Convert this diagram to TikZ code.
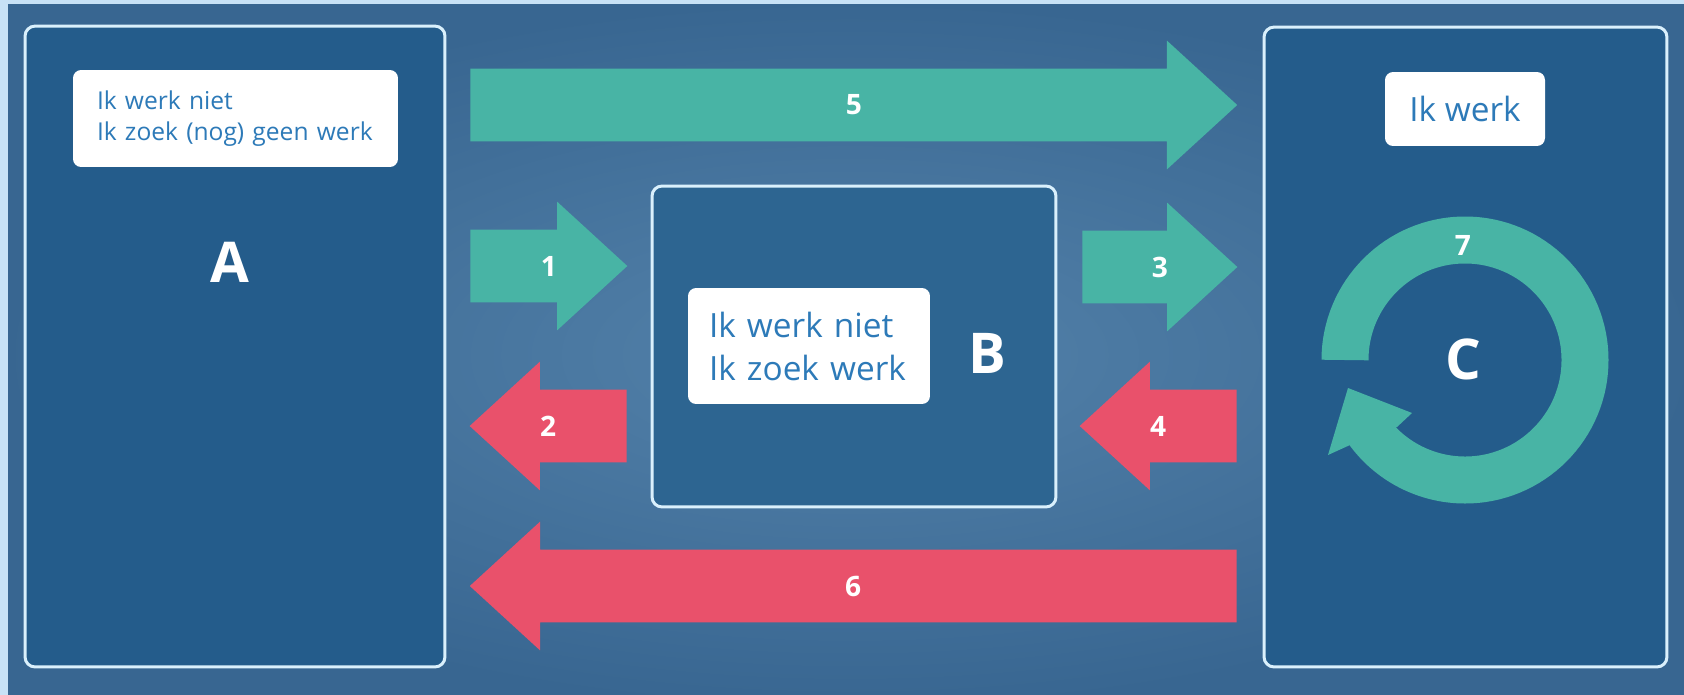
\documentclass[tikz,border=0pt]{standalone}
\usepackage{fontspec}
\setmainfont{Open Sans}
\usepackage{tikz}
\usetikzlibrary{shapes.arrows, calc, positioning}
\definecolor{bgedge}{RGB}{56,102,145}
\definecolor{bgmid}{RGB}{84,130,170}
\definecolor{frameblue}{RGB}{200,226,246}
\definecolor{panelfill}{RGB}{36,92,139}
\definecolor{panelmid}{RGB}{45,101,145}
\definecolor{panelline}{RGB}{218,240,252}
\definecolor{goteal}{RGB}{72,180,165}
\definecolor{backred}{RGB}{233,81,107}
\definecolor{labelblue}{RGB}{45,122,184}
\tikzstyle{panel} = [rectangle, rounded corners=0.2cm, draw=panelline, line width=1.7pt, fill=panelfill]
\tikzstyle{tag} = [rectangle, rounded corners=0.16cm, fill=white, text=labelblue, align=left]
\tikzstyle{letter} = [text=white, font=\fontsize{32}{38}\selectfont\bfseries]
\tikzstyle{num} = [text=white, inner sep=0pt, font=\fontsize{16}{19}\selectfont\bfseries]
\tikzstyle{fwd} = [single arrow, fill=goteal, draw=none, single arrow tip angle=85, single arrow head extend=0.56cm, inner xsep=0pt, inner ysep=0.52cm, text height=0.4cm, text depth=0pt, anchor=tail]
\tikzstyle{bwd} = [fwd, fill=backred, shape border rotate=180]

\begin{document}
\begin{tikzpicture}[x=0.02cm, y=-0.02cm]

	\useasboundingbox (0,0) rectangle (1684,694);
	\shade[inner color=bgmid, outer color=bgedge] (0,0) rectangle (1700,710);
	\fill[frameblue] (-10,-10) rectangle (8,710);
	\fill[frameblue] (-10,-10) rectangle (1700,4);

	% Panels
	\node (boxA) [panel, minimum width=8.4cm, minimum height=12.82cm] at (235,346.5) {};
	\node (boxB) [panel, fill=panelmid, minimum width=8.08cm, minimum height=6.42cm] at (854,346.5) {};
	\node (boxC) [panel, minimum width=8.06cm, minimum height=12.8cm] at (1465.5,347) {};

	\node (tagA) [tag, minimum width=6.5cm, minimum height=1.94cm, text width=5.54cm, inner xsep=0.48cm, font=\fontsize{14}{17.6}\selectfont] at (235.5,118.5) {Ik werk niet\\Ik zoek (nog) geen werk};
	\node (tagB) [tag, minimum width=4.84cm, minimum height=2.32cm, text width=4.0cm, inner xsep=0.42cm, font=\fontsize{19}{24.5}\selectfont] at (809,346) {Ik werk niet\\Ik zoek werk};
	\node (tagC) [tag, align=center, minimum width=3.2cm, minimum height=1.48cm, font=\fontsize{19}{24.5}\selectfont] at (1465,109) {Ik werk};

	\node (letA) [letter] at (230,262) {A};
	\node (letB) [letter] at (987,353) {B};
	\node (letC) [letter] at (1463,359) {C};

	% Arrows between panels
	\node (a5) [fwd, minimum height=15.34cm] at (470,105) {};
	\node (a1) [fwd, minimum height=3.14cm] at (470,266) {};
	\node (a3) [fwd, minimum height=3.1cm] at (1082,267) {};
	\node (a2) [bwd, minimum height=3.14cm] at (627,426) {};
	\node (a4) [bwd, minimum height=3.14cm] at (1237,426) {};
	\node (a6) [bwd, minimum height=15.34cm] at (1237,586) {};

	\node (n5) [num] at ($(a5.tail)!.5!(a5.tip)$) {5};
	\node (n1) [num] at ($(a1.tail)!.5!(a1.tip)$) {1};
	\node (n3) [num] at ($(a3.tail)!.5!(a3.tip)$) {3};
	\node (n2) [num] at ($(a2.tail)!.5!(a2.tip)$) {2};
	\node (n4) [num] at ($(a4.tail)!.5!(a4.tip)$) {4};
	\node (n6) [num] at ($(a6.tail)!.5!(a6.tip)$) {6};

	% Loop in C
	\coordinate (ringc) at (1465,360);
	\draw[goteal, line width=0.94cm] ($(ringc)+(180:120)$) arc[start angle=180, end angle=505, radius=120];
	\fill[goteal, shift={(ringc)}] (-117,28) -- (-53,53) -- (-68,67) -- (-115,85) -- (-137,95) -- cycle;
	\node (n7) [num] at (1463,245) {7};

\end{tikzpicture}
\end{document}
